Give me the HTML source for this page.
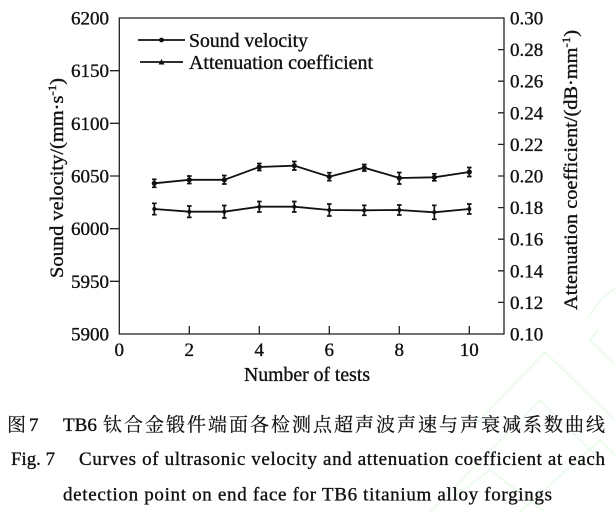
<!DOCTYPE html>
<html><head><meta charset="utf-8"><style>
html,body{margin:0;padding:0;background:#fff;}
svg{display:block;}
text{font-family:"Liberation Serif","Noto Serif CJK SC",serif;fill:#111;stroke:#111;stroke-width:0.35px;}
.cjk{font-family:"Liberation Serif","Noto Serif CJK SC","Noto Sans CJK SC",serif;stroke-width:0.2px;}
</style></head><body>
<svg width="615" height="512" viewBox="0 0 615 512" xmlns="http://www.w3.org/2000/svg">
<rect width="615" height="512" fill="#fff"/>
<!-- watermark -->
<g fill="none" stroke="#ecfcec" stroke-width="2">
<polyline points="470,430 545,352 615,420"/>
<polyline points="520,512 600,440 615,455"/>
<polyline points="430,512 540,400 600,460"/>
<polyline points="588,318 600,300 615,288"/>
<polyline points="598,330 590,340 615,365"/>
<polyline points="450,500 490,470 545,512"/>
</g>
<!-- plot box -->
<g stroke="#222" stroke-width="1.3" fill="none">
<rect x="119.3" y="18" width="384.7" height="316"/>
<path d="M110,70.7H119.3M110,123.3H119.3M110,176H119.3M110,228.7H119.3M110,281.3H119.3"/>
<path d="M498,49.6H504M498,81.2H504M498,112.8H504M498,144.4H504M498,176H504M498,207.6H504M498,239.2H504M498,270.8H504M498,302.4H504"/>
<path d="M189.3,326V334M259.3,326V334M329.3,326V334M399.3,326V334M469.3,326V334"/>
</g>
<!-- left tick labels -->
<g font-size="19" text-anchor="end">
<text x="109" y="24.5">6200</text>
<text x="109" y="77.2">6150</text>
<text x="109" y="129.8">6100</text>
<text x="109" y="182.5">6050</text>
<text x="109" y="235.2">6000</text>
<text x="109" y="287.8">5950</text>
<text x="109" y="340.5">5900</text>
</g>
<!-- right tick labels -->
<g font-size="19" text-anchor="start">
<text x="510" y="24.5">0.30</text>
<text x="510" y="56.1">0.28</text>
<text x="510" y="87.7">0.26</text>
<text x="510" y="119.3">0.24</text>
<text x="510" y="150.9">0.22</text>
<text x="510" y="182.5">0.20</text>
<text x="510" y="214.1">0.18</text>
<text x="510" y="245.7">0.16</text>
<text x="510" y="277.3">0.14</text>
<text x="510" y="308.9">0.12</text>
<text x="510" y="340.5">0.10</text>
</g>
<!-- bottom tick labels -->
<g font-size="19" text-anchor="middle">
<text x="119.3" y="356">0</text>
<text x="189.3" y="356">2</text>
<text x="259.3" y="356">4</text>
<text x="329.3" y="356">6</text>
<text x="399.3" y="356">8</text>
<text x="469.3" y="356">10</text>
</g>
<text x="307" y="381" font-size="19.5" text-anchor="middle" textLength="126" lengthAdjust="spacingAndGlyphs">Number of tests</text>
<!-- axis titles -->
<text transform="translate(63,178) rotate(-90)" font-size="19" text-anchor="middle" textLength="200" lengthAdjust="spacingAndGlyphs">Sound velocity/(mm·s<tspan dy="-7" font-size="12">-1</tspan><tspan dy="7">)</tspan></text>
<text transform="translate(577,170) rotate(-90)" font-size="19" text-anchor="middle" textLength="280" lengthAdjust="spacingAndGlyphs">Attenuation coefficient/(dB·mm<tspan dy="-7" font-size="12">-1</tspan><tspan dy="7">)</tspan></text>
<!-- legend -->
<g stroke="#111" stroke-width="1.7">
<line x1="138" y1="40" x2="185" y2="40"/>
<line x1="140" y1="62" x2="183" y2="62"/>
</g>
<circle cx="161.5" cy="40" r="2.4" fill="#111"/>
<polygon points="161.5,59 164.5,64.5 158.5,64.5" fill="#111"/>
<text x="189" y="47" font-size="19.5" textLength="119" lengthAdjust="spacingAndGlyphs">Sound velocity</text>
<text x="189" y="69" font-size="19.5" textLength="184" lengthAdjust="spacingAndGlyphs">Attenuation coefficient</text>
<!-- series -->
<g stroke="#111" stroke-width="1.8" fill="none">
<polyline points="154.3,183.3 189.3,179.8 224.3,179.8 259.3,167 294.3,165.7 329.3,176.7 364.3,167.7 399.3,178 434.3,177.3 469.3,172"/>
<polyline points="154.3,209 189.3,211.7 224.3,211.7 259.3,206.7 294.3,206.7 329.3,210 364.3,210.3 399.3,210 434.3,212.3 469.3,209"/>
</g>
<!-- error bars -->
<g stroke="#111" stroke-width="1.7" fill="none">
<path d="M154.3,179.3V187.3M152,179.3H156.6M152,187.3H156.6"/>
<path d="M189.3,176V183.5M187,176H191.6M187,183.5H191.6"/>
<path d="M224.3,175.5V184M222,175.5H226.6M222,184H226.6"/>
<path d="M259.3,163.5V170.5M257,163.5H261.6M257,170.5H261.6"/>
<path d="M294.3,161.5V170M292,161.5H296.6M292,170H296.6"/>
<path d="M329.3,172.7V180.7M327,172.7H331.6M327,180.7H331.6"/>
<path d="M364.3,164.5V171M362,164.5H366.6M362,171H366.6"/>
<path d="M399.3,172.5V184M397,172.5H401.6M397,184H401.6"/>
<path d="M434.3,173.8V180.8M432,173.8H436.6M432,180.8H436.6"/>
<path d="M469.3,167.5V176.5M467,167.5H471.6M467,176.5H471.6"/>

<path d="M154.3,203.3V214.7M152,203.3H156.6M152,214.7H156.6"/>
<path d="M189.3,206V217.4M187,206H191.6M187,217.4H191.6"/>
<path d="M224.3,205.5V218M222,205.5H226.6M222,218H226.6"/>
<path d="M259.3,201.5V212M257,201.5H261.6M257,212H261.6"/>
<path d="M294.3,201.5V212M292,201.5H296.6M292,212H296.6"/>
<path d="M329.3,204V216M327,204H331.6M327,216H331.6"/>
<path d="M364.3,205.3V215.3M362,205.3H366.6M362,215.3H366.6"/>
<path d="M399.3,205V215M397,205H401.6M397,215H401.6"/>
<path d="M434.3,205.3V219.3M432,205.3H436.6M432,219.3H436.6"/>
<path d="M469.3,204V214M467,204H471.6M467,214H471.6"/>
</g>
<g fill="#111">
<circle cx="154.3" cy="183.3" r="2.6"/><circle cx="189.3" cy="179.8" r="2.6"/><circle cx="224.3" cy="179.8" r="2.6"/><circle cx="259.3" cy="167" r="2.6"/><circle cx="294.3" cy="165.7" r="2.6"/><circle cx="329.3" cy="176.7" r="2.6"/><circle cx="364.3" cy="167.7" r="2.6"/><circle cx="399.3" cy="178" r="2.6"/><circle cx="434.3" cy="177.3" r="2.6"/><circle cx="469.3" cy="172" r="2.6"/>
<circle cx="154.3" cy="209" r="2"/><circle cx="189.3" cy="211.7" r="2"/><circle cx="224.3" cy="211.7" r="2"/><circle cx="259.3" cy="206.7" r="2"/><circle cx="294.3" cy="206.7" r="2"/><circle cx="329.3" cy="210" r="2"/><circle cx="364.3" cy="210.3" r="2"/><circle cx="399.3" cy="210" r="2"/><circle cx="434.3" cy="212.3" r="2"/><circle cx="469.3" cy="209" r="2"/>
</g>
<!-- caption -->
<text class="cjk" x="7" y="431" font-size="19">图</text>
<text x="29" y="431" font-size="19">7</text>
<text x="63" y="431" font-size="19" textLength="34" lengthAdjust="spacingAndGlyphs">TB6</text>
<text class="cjk" x="103" y="431" font-size="19" textLength="502" lengthAdjust="spacing">钛合金锻件端面各检测点超声波声速与声衰减系数曲线</text>
<text x="11" y="465" font-size="19" textLength="44" lengthAdjust="spacingAndGlyphs">Fig. 7</text>
<text x="79" y="465" font-size="19" textLength="526" lengthAdjust="spacing">Curves of ultrasonic velocity and attenuation coefficient at each</text>
<text x="63" y="500.5" font-size="19" textLength="489" lengthAdjust="spacing">detection point on end face for TB6 titanium alloy forgings</text>
</svg>
</body></html>
